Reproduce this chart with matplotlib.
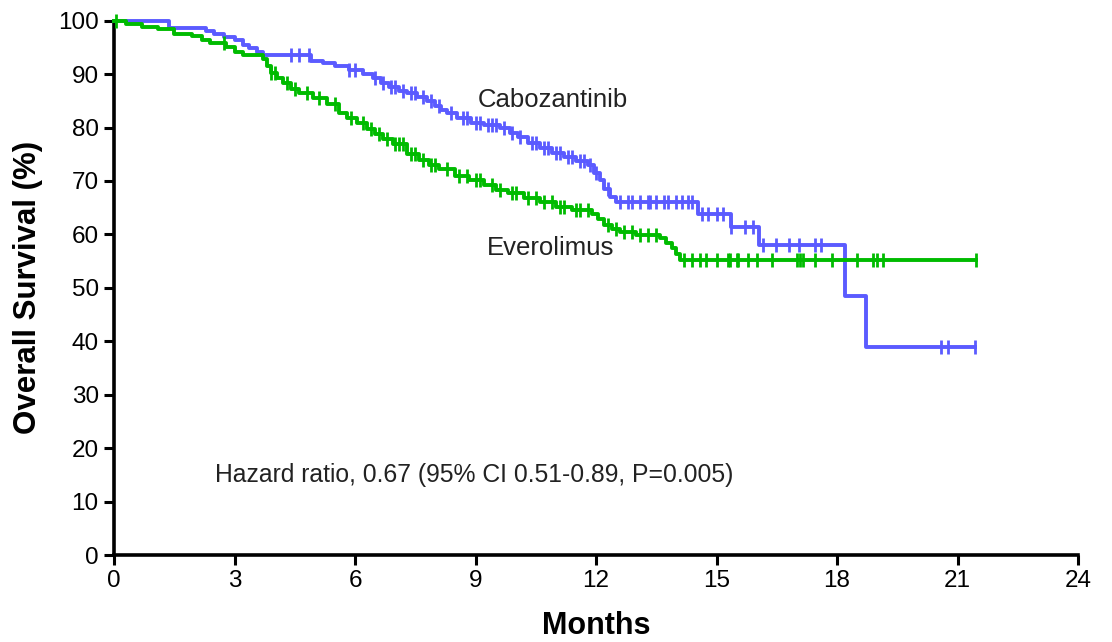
import numpy as np
import matplotlib
matplotlib.use("Agg")
from matplotlib import pyplot as plt

plt.rcParams['font.family'] = ['Liberation Sans', 'DejaVu Sans']

# Kaplan-Meier steps: (months, survival % after the drop)
cabo_t = [0, 1.37, 2.3, 2.5, 2.75, 3.0, 3.2, 3.36, 3.55, 3.7, 4.9, 5.2, 5.5, 5.85,
          6.2, 6.45, 6.65, 6.85, 7.1, 7.3, 7.55, 7.8, 8.0, 8.15, 8.3, 8.55, 8.9,
          9.2, 9.6, 9.85, 10.05, 10.3, 10.6, 10.9, 11.2, 11.5, 11.8, 11.95, 12.1,
          12.2, 12.35, 12.5, 14.55, 15.37, 16.07, 18.2, 18.73, 21.43]
cabo_s = [100, 98.6, 98.0, 97.6, 97.0, 96.3, 95.5, 94.8, 94.2, 93.6, 92.5, 92.0, 91.6, 90.7,
          90.0, 89.3, 88.4, 87.5, 86.9, 86.4, 85.7, 85.0, 84.0, 83.3, 82.8, 81.8, 80.9,
          80.4, 80.0, 79.0, 78.2, 77.2, 76.2, 75.3, 74.5, 73.7, 72.9, 71.5, 70.1,
          68.5, 67.0, 66.0, 63.9, 61.3, 58.1, 48.4, 38.9, 38.9]

evero_t = [0, 0.3, 0.7, 1.1, 1.5, 1.95, 2.2, 2.4, 2.8, 3.0, 3.2, 3.7, 3.8, 3.9, 4.05,
           4.2, 4.4, 4.6, 4.95, 5.3, 5.6, 5.8, 6.05, 6.3, 6.5, 6.7, 6.95, 7.3, 7.6,
           7.85, 8.1, 8.5, 8.85, 9.2, 9.5, 9.8, 10.2, 10.6, 11.0, 11.4, 11.9, 12.05,
           12.2, 12.4, 12.6, 13.0, 13.6, 13.75, 13.9, 14.0, 14.1, 21.46]
evero_s = [100, 99.3, 98.9, 98.5, 97.6, 97.2, 96.4, 95.9, 95.0, 94.2, 93.5, 92.9, 91.5, 90.3, 89.3,
           88.4, 87.3, 86.4, 85.5, 84.5, 82.8, 81.8, 80.9, 79.8, 78.8, 77.9, 76.9, 75.1, 73.9,
           72.9, 72.2, 71.0, 70.1, 69.2, 68.4, 67.7, 66.8, 66.0, 65.2, 64.5, 63.9, 62.8,
           61.7, 61.0, 60.4, 59.9, 59.4, 58.4, 57.4, 56.3, 55.3, 55.3]

# censored patients (months)
cabo_cens = [4.4, 4.6, 4.86, 5.85, 6.0, 6.5, 6.7, 6.9, 7.0, 7.2, 7.4, 7.5, 7.7, 7.9, 8.1,
             8.4, 8.7, 8.8, 9.0, 9.1, 9.3, 9.4, 9.5, 9.7, 9.9, 10.1, 10.4, 10.5, 10.7, 10.8,
             11.0, 11.1, 11.3, 11.4, 11.6, 11.7, 11.85, 12.0, 12.3, 12.6, 12.8, 12.9, 13.1,
             13.3, 13.35, 13.5, 13.7, 13.8, 14.0, 14.15, 14.3, 14.4, 14.65, 14.8, 15.0,
             15.15, 15.37, 15.7, 15.9, 16.15, 16.47, 16.8, 17.05, 17.45, 17.6, 20.6, 20.76, 21.43]
evero_cens = [0.05, 2.75, 3.9, 4.0, 4.3, 4.5, 4.8, 5.1, 5.5, 5.9, 6.2, 6.4, 6.6, 6.8, 7.0,
              7.1, 7.2, 7.4, 7.5, 7.7, 7.9, 8.0, 8.3, 8.6, 8.8, 9.0, 9.1, 9.4, 9.6, 9.9,
              10.0, 10.3, 10.5, 10.7, 10.9, 11.1, 11.2, 11.5, 11.6, 11.8, 12.3, 12.5, 12.7,
              12.9, 13.1, 13.3, 13.5, 14.2, 14.4, 14.58, 14.75, 15.0, 15.28, 15.33, 15.5,
              15.53, 15.78, 16.0, 16.37, 17.0, 17.07, 17.15, 17.45, 17.87, 18.5, 18.9,
              19.0, 19.15, 21.46]

xticks = [0, 3, 6, 9, 12, 15, 18, 21, 24]
yticks = [0, 10, 20, 30, 40, 50, 60, 70, 80, 90, 100]

BLUE = '#5b5bff'
GREEN = '#00bb00'


def cens_y(t, s, ct):
    idx = np.searchsorted(t, ct, side='right') - 1
    return np.asarray(s)[idx]


fig = plt.figure(figsize=(11.12, 6.42), dpi=100)
ax = fig.add_axes([114 / 1112, 1 - 555 / 642, 964 / 1112, 534.3 / 642])

for t, s, c, col in [(cabo_t, cabo_s, cabo_cens, BLUE), (evero_t, evero_s, evero_cens, GREEN)]:
    ax.step(t, s, where='post', color=col, lw=2.8, clip_on=False, zorder=3)
    ax.plot(c, cens_y(t, s, c), ls='none', marker='|', ms=10, mew=2,
            color=col, clip_on=False, zorder=3)

ax.set_xlim(0, 24)
ax.set_ylim(0, 100)
ax.set_xticks(xticks)
ax.set_yticks(yticks)
ax.spines['top'].set_visible(False)
ax.spines['right'].set_visible(False)
for sp in ['left', 'bottom']:
    ax.spines[sp].set_linewidth(2.6)
ax.tick_params(width=2.2, length=7, labelsize=17.5, colors='black', pad=4)

ax.set_xlabel('Months', fontsize=22, fontweight='bold')
ax.set_ylabel('Overall Survival (%)', fontsize=22.5, fontweight='bold')
ax.xaxis.set_label_coords(0.5, -0.105)
ax.yaxis.set_label_coords(-0.074, 0.5)

ax.text(9.06, 85.2, 'Cabozantinib', fontsize=18.5, va='center', ha='left', color='#222222')
ax.text(9.29, 57.5, 'Everolimus', fontsize=18.5, va='center', ha='left', color='#222222')
ax.text(2.51, 15.0, 'Hazard ratio, 0.67 (95% CI 0.51-0.89, P=0.005)', fontsize=17.8,
        va='center', ha='left', color='#222222')

fig.savefig('out.png', dpi=100)
